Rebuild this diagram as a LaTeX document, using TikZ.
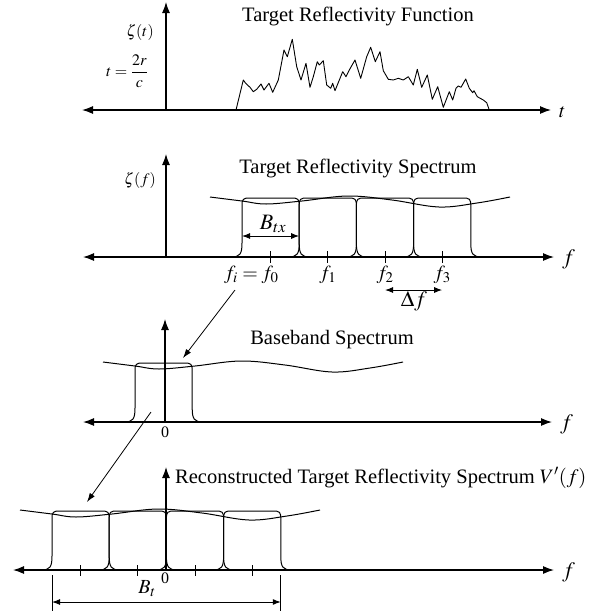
\documentclass[tikz,border=0pt]{standalone}
\usepackage{mathptmx}
\usepackage[no-math]{fontspec}
\setmainfont{Liberation Serif}
\usetikzlibrary{arrows.meta}
\tikzset{
  ax/.style={line width=1.2pt, -{Latex[length=11pt,width=8pt]}},
  axx/.style={line width=1.2pt, {Latex[length=11pt,width=8pt]}-{Latex[length=11pt,width=8pt]}},
  dbl/.style={line width=1pt, {Latex[length=8pt,width=6pt]}-{Latex[length=8pt,width=6pt]}},
  conn/.style={line width=0.8pt, -{Latex[length=9pt,width=6pt]}},
  pul/.style={line width=1pt},
  crv/.style={line width=1pt, line join=round},
  tick/.style={line width=0.9pt},
  ttl/.style={font=\fontsize{20.5}{24}\selectfont, inner sep=0pt},
  lbl/.style={font=\fontsize{20}{24}\selectfont, inner sep=0pt},
  big/.style={font=\fontsize{22}{26}\selectfont, inner sep=0pt},
  sml/.style={font=\fontsize{16}{19}\selectfont, inner sep=0pt}
}
\newcommand{\pulsebox}[1]{% #1 = left edge x (scope shifted to base y)
  \draw[pul] ({#1-11},0) .. controls ({#1-2},0) and (#1,-3) .. (#1,-14) -- (#1,-51)
    .. controls (#1,-58) and ({#1+1},-59) .. ({#1+8},-59) -- ({#1+49.2},-59)
    .. controls ({#1+56.2},-59) and ({#1+57.2},-58) .. ({#1+57.2},-51) -- ({#1+57.2},-14)
    .. controls ({#1+57.2},-3) and ({#1+59.2},0) .. ({#1+68.2},0);}
\newcommand{\specurve}{%
  \draw[crv] plot[smooth, tension=0.6] coordinates {(-32,-1) (0,3) (24,6) (60,3) (106,-2) (150,2) (197,9) (235,5) (268,-1)};}
\begin{document}
\begin{tikzpicture}[x=1pt,y=-1pt]
\useasboundingbox (0,0) rectangle (600,611);

% ---------- Panel 1 ----------
\coordinate (o1) at (166,110);
\coordinate (l1) at (82,110);
\coordinate (r1) at (551,110);
\coordinate (u1) at (166,2);
\draw[ax] (o1) -- (u1);
\draw[axx] (l1) -- (r1);
\node[ttl, anchor=base] (t1) at (358,21) {Target Reflectivity Function};
\node[lbl, anchor=west] (tl) at (559,112) {$t$};
\node[sml] (z1) at (140,32) {$\zeta(t)$};
\node[sml] (tr) at (127,71) {$t=\displaystyle\frac{2r}{c}$};
\draw[crv, line width=0.9pt] (236,110) -- (243.3,80) -- (245.7,83.3) -- (250,87.3) -- (253.3,91.7) -- (256.7,89.3) -- (261,84) -- (264,90) -- (269,83.3) -- (272.7,92.3) -- (278.3,80) -- (284,50) -- (287.3,56.7) -- (292.3,39.3) -- (296.7,66.7) -- (301,80) -- (306,63.3) -- (310,87.3) -- (313.3,76.7) -- (317.3,61.7) -- (319.3,65) -- (323.3,60.7) -- (326.7,85) -- (330.7,88.3) -- (332.7,83.3) -- (335,90.7) -- (342.7,71.7) -- (346,76.7) -- (349.3,70) -- (355,60) -- (360.7,78.3) -- (366.7,56.7) -- (370.7,47.3) -- (375.3,61.7) -- (380,51.7) -- (383.3,70.7) -- (388.3,79.3) -- (393.3,80) -- (398.3,78.3) -- (403.3,80) -- (408.3,76.7) -- (413.3,85) -- (417.3,69.3) -- (421.7,87.3) -- (427.3,75) -- (432.3,99.3) -- (437.7,86.7) -- (443.3,107.3) -- (449.3,91.7) -- (452.7,100) -- (456,88.3) -- (458.3,86) -- (461,87.3) -- (465.7,79) -- (469.3,88.3) -- (472.7,92.7) -- (474,90.7) -- (477.3,96.7) -- (483.3,100) -- (486.7,102.7) -- (489.3,110);

% ---------- Panel 2 ----------
\coordinate (o2) at (166,257);
\coordinate (l2) at (83,257);
\coordinate (r2) at (554,257);
\coordinate (u2) at (166,154);
\draw[ax] (o2) -- (u2);
\draw[axx] (l2) -- (r2);
\node[ttl] (t2) at (358,168) {Target Reflectivity Spectrum};
\node[big, anchor=west] (fl2) at (562,259) {$f$};
\node[sml] (z2) at (140,180) {$\zeta(f)$};
\begin{scope}[shift={(0,257)}]
  \pulsebox{242} \pulsebox{299.2} \pulsebox{356.4} \pulsebox{413.6}
\end{scope}
\begin{scope}[shift={(242,198)}]
  \specurve
\end{scope}
\foreach \x in {270.6,327.8,385,442.2}{
  \draw[tick] (\x,251) -- (\x,263);
}
\node[lbl, anchor=base] (f0) at (270,279) {$f_0$};
\node[lbl, anchor=base east] (fi) at (258,279) {$f_i =$};
\node[lbl, anchor=base] (f1) at (327.8,279) {$f_1$};
\node[lbl, anchor=base] (f2) at (385,279) {$f_2$};
\node[lbl, anchor=base] (f3) at (442.2,279) {$f_3$};
\coordinate (bx1) at (242,236);
\coordinate (bx2) at (299.2,236);
\draw[dbl] (bx1) -- (bx2);
\node[big, anchor=base] (btx) at (273,229) {$B_{tx}$};
\coordinate (df1) at (385,290);
\coordinate (df2) at (442.2,290);
\draw[dbl] (df1) -- (df2);
\node[big, anchor=base] (dfl) at (414,306) {$\Delta f$};

% ---------- Panel 3 ----------
\coordinate (o3) at (165,422);
\coordinate (l3) at (83,422);
\coordinate (r3) at (552,422);
\coordinate (u3) at (165,319);
\draw[ax] (o3) -- (u3);
\draw[axx] (l3) -- (r3);
\node[ttl] (t3) at (332,340) {Baseband Spectrum};
\node[big, anchor=west] (fl3) at (560,424) {$f$};
\node[sml] (z3) at (165,432) {0};
\begin{scope}[shift={(0,422)}]
  \pulsebox{135}
\end{scope}
\begin{scope}[shift={(135,363)}]
  \specurve
\end{scope}

% ---------- Panel 4 ----------
\coordinate (o4) at (166,570);
\coordinate (l4) at (13,570);
\coordinate (r4) at (554,570);
\coordinate (u4) at (166,467);
\draw[ax] (o4) -- (u4);
\draw[axx] (l4) -- (r4);
\node[ttl, anchor=west] (t4) at (175,478) {Reconstructed Target Reflectivity Spectrum $V'(f)$};
\node[big, anchor=west] (fl4) at (562,572) {$f$};
\begin{scope}[shift={(0,570)}]
  \pulsebox{52} \pulsebox{109.2} \pulsebox{166.4} \pulsebox{223.6}
\end{scope}
\begin{scope}[shift={(52,511)}]
  \specurve
\end{scope}
\foreach \x in {80.6,137.8,195,252.2}{
  \draw[tick] (\x,565) -- (\x,576);
}
\node[sml] (z4) at (165,578) {0};
\node[lbl, anchor=base] (bt) at (147,593) {$B_t$};
\coordinate (btl) at (52,575);
\coordinate (btr) at (280.8,575);
\coordinate (btlb) at (52,611);
\coordinate (btrb) at (280.8,611);
\draw[line width=0.8pt] (btl) -- (btlb);
\draw[line width=0.8pt] (btr) -- (btrb);
\draw[dbl] (52,602) -- (280.8,602);

% ---------- Connectors ----------
\coordinate (a1) at (235,290);
\coordinate (a2) at (183,358);
\draw[conn] (a1) -- (a2);
\coordinate (b1) at (151,412);
\coordinate (b2) at (87,502);
\draw[conn] (b1) -- (b2);
\end{tikzpicture}
\end{document}
